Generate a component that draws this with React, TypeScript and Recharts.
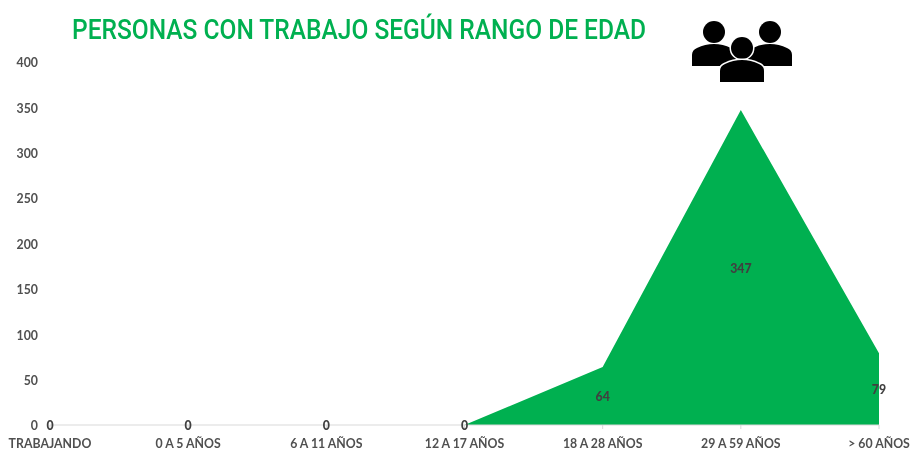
import { Area, AreaChart, LabelList, XAxis, YAxis } from "recharts";

const categories = [
	"TRABAJANDO",
	"0 A 5 AÑOS",
	"6 A 11 AÑOS",
	"12 A 17 AÑOS",
	"18 A 28 AÑOS",
	"29 A 59 AÑOS",
	"> 60 AÑOS",
];
const personas = [0, 0, 0, 0, 64, 347, 79];
const yTicks = [0, 50, 100, 150, 200, 250, 300, 350, 400];

const data = categories.map((rango, i) => ({ rango, personas: personas[i] }));

const GREEN = "#00B050";
const GREY = "#505050";
const FONT = "Lato, 'Open Sans', sans-serif";
const BASELINE = 425;

// data labels sit halfway up the area, like the spreadsheet's centered area labels
function MidLabel(props: any) {
	const { x, y, value } = props;
	return (
		<text
			x={x}
			y={(y + BASELINE) / 2}
			dy={5}
			textAnchor="middle"
			fontFamily={FONT}
			fontWeight={900}
			fontSize={12.3}
			fill="#404040"
		>
			{value}
		</text>
	);
}

function Person({ cx, top }: { cx: number; top: number }) {
	return (
		<g>
			<circle cx={cx} cy={top + 10} r={11} />
			<path
				d={`M${cx - 22} ${top + 44} v-11 q0 -5 5 -7 q8 -4 17 -4 q9 0 17 4 q5 2 5 7 v11 z`}
			/>
		</g>
	);
}

function PeopleIcon() {
	return (
		<svg
			width={110}
			height={70}
			viewBox="0 0 110 70"
			style={{ position: "absolute", left: 688, top: 18 }}
		>
			<Person cx={26} top={4} />
			<Person cx={82} top={4} />
			<g stroke="#fff" strokeWidth={3} paintOrder="stroke">
				<Person cx={54} top={20} />
			</g>
		</svg>
	);
}

export default function App() {
	return (
		<div
			style={{
				position: "absolute",
				left: 0,
				top: 0,
				width: 912,
				height: 450,
				background: "#fff",
				filter: "blur(0.3px)",
			}}
		>
			<AreaChart
				width={912}
				height={450}
				data={data}
				margin={{ top: 62, right: 33, bottom: 0, left: 0 }}
			>
				<XAxis
					dataKey="rango"
					interval={0}
					height={25}
					stroke="#d9d9d9"
					tickSize={4}
					tickMargin={10}
					tick={{ fontFamily: FONT, fontWeight: 700, fontSize: 12.3, fill: GREY }}
				/>
				<YAxis
					width={50}
					domain={[0, 400]}
					ticks={yTicks}
					axisLine={false}
					tickLine={false}
					tickMargin={6}
					tick={{ fontFamily: FONT, fontWeight: 700, fontSize: 12.3, fill: GREY, dy: 1 }}
				/>
				<Area
					type="linear"
					dataKey="personas"
					stroke="none"
					fill={GREEN}
					fillOpacity={1}
					dot={false}
					activeDot={false}
					isAnimationActive={false}
				>
					<LabelList dataKey="personas" content={MidLabel} />
				</Area>
			</AreaChart>
			<svg
				width={912}
				height={60}
				style={{ position: "absolute", left: 0, top: 0 }}
			>
				<text
					x={72}
					y={39}
					textLength={574}
					lengthAdjust="spacingAndGlyphs"
					fontFamily="Roboto, sans-serif"
					fontWeight={500}
					fontSize={28}
					fill={GREEN}
				>
					PERSONAS CON TRABAJO SEGÚN RANGO DE EDAD
				</text>
			</svg>
			<PeopleIcon />
		</div>
	);
}
